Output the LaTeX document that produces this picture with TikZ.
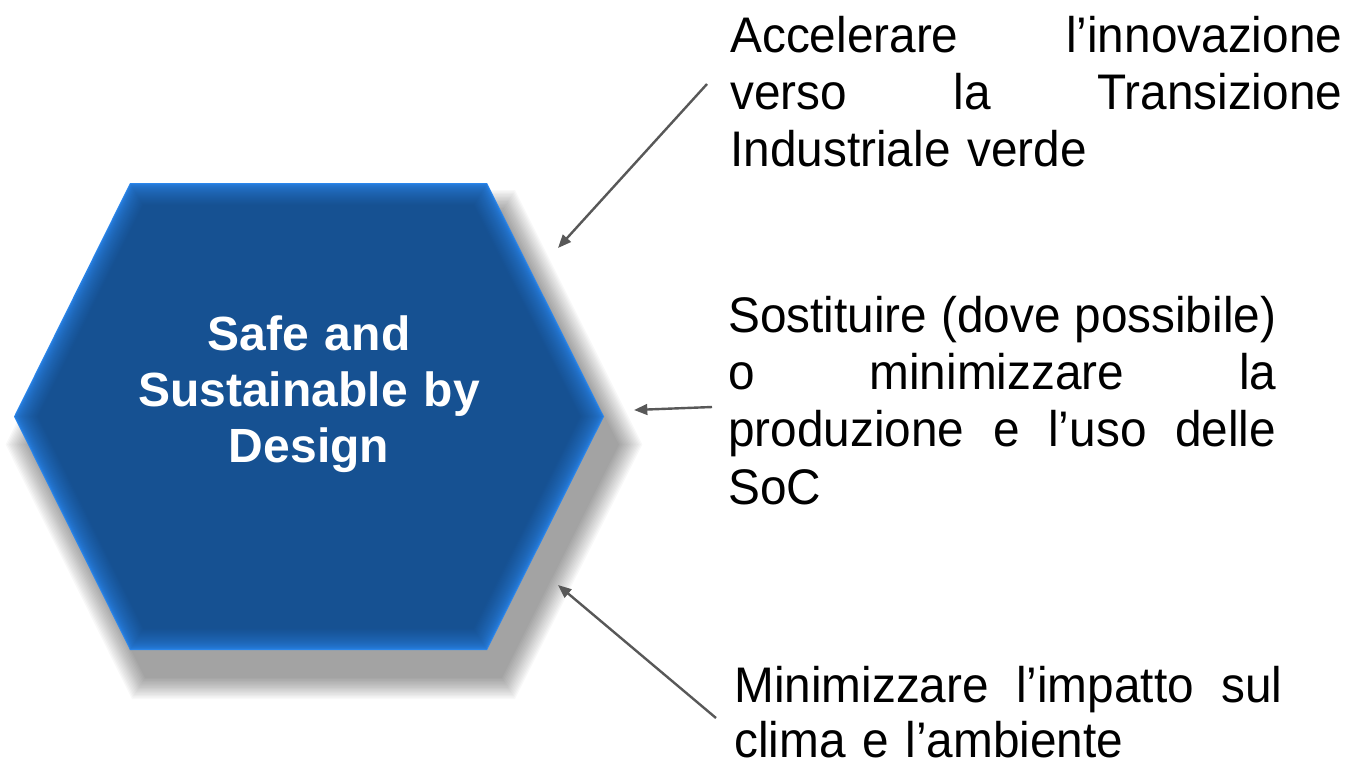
\documentclass[tikz,border=0pt]{standalone}
\usepackage{fontspec}
\setmainfont{Liberation Sans}
\newfontfamily\bodyfont{Liberation Sans}[FakeStretch=0.955]
\usetikzlibrary{arrows.meta}
\definecolor{hexdark}{RGB}{22,81,146}
\definecolor{hexlight}{RGB}{42,134,236}
\definecolor{arrowgray}{RGB}{88,88,88}
\newcommand\hexat[1]{({14+1.1166*#1},416.5) -- ({130+0.62*#1},{183+#1}) -- ({487-0.62*#1},{183+#1}) -- ({604-1.1166*#1},416.5) -- ({487-0.62*#1},{650-#1}) -- ({130+0.62*#1},{650-#1}) -- cycle}
\newcommand\jline[2]{\makebox[#1]{#2}}
\begin{document}
\begin{tikzpicture}[x=0.75pt,y=-0.75pt,
  conn/.style={draw=arrowgray, line width=1.8pt, -{Triangle[length=10pt,width=8pt]}},
  bodytext/.style={anchor=base west, inner sep=0pt, align=left, font=\bodyfont\fontsize{37.5pt}{43.1pt}\selectfont},
  hextext/.style={anchor=base, inner sep=0pt, align=center, text=white, text width=420pt, font=\bfseries\fontsize{36pt}{42pt}\selectfont}]
\useasboundingbox (0,0) rectangle (1351,769);
% shadow
\begin{scope}[shift={(15,28)}]
\foreach \i in {0,...,15}{
  \pgfmathsetmacro\o{-1.4*(15-\i)}
  \fill[black, opacity=0.026] \hexat{\o};
}
\end{scope}
% bevelled hexagon
\foreach \d in {0,...,22}{
  \pgfmathsetmacro\p{100*sqrt(\d/22)}
  \fill[hexdark!\p!hexlight] \hexat{\d};
}
\node[hextext] (hex) at (309,350) {Safe and\\Sustainable by\\Design};
% anchor points
\coordinate (h1) at (558,248);
\coordinate (h2) at (634,410);
\coordinate (h3) at (558,585);
% texts
\node[bodytext, text width=459pt] (b1) at (730,52) {\jline{459pt}{Accelerare\hfill l’innovazione}\\\jline{459pt}{verso\hfill la\hfill Transizione}\\Industriale verde};
\node[bodytext, text width=411pt] (b2) at (728,332) {\jline{411pt}{Sostituire\hfill (dove\hfill possibile)}\\\jline{411pt}{o\hfill minimizzare\hfill la}\\\jline{411pt}{produzione\hfill e\hfill l’uso\hfill delle}\\SoC};
\node[bodytext, text width=411pt, font=\bodyfont\fontsize{37.5pt}{41.5pt}\selectfont] (b3) at (734,702) {\jline{411pt}{Minimizzare\hfill l’impatto\hfill sul}\\clima e l’ambiente};
\coordinate (t1) at (707,84);
\coordinate (t2) at (712,407);
\coordinate (t3) at (716,718);
\draw[conn] (t1) -- (h1);
\draw[conn] (t2) -- (h2);
\draw[conn] (t3) -- (h3);
\end{tikzpicture}
\end{document}
